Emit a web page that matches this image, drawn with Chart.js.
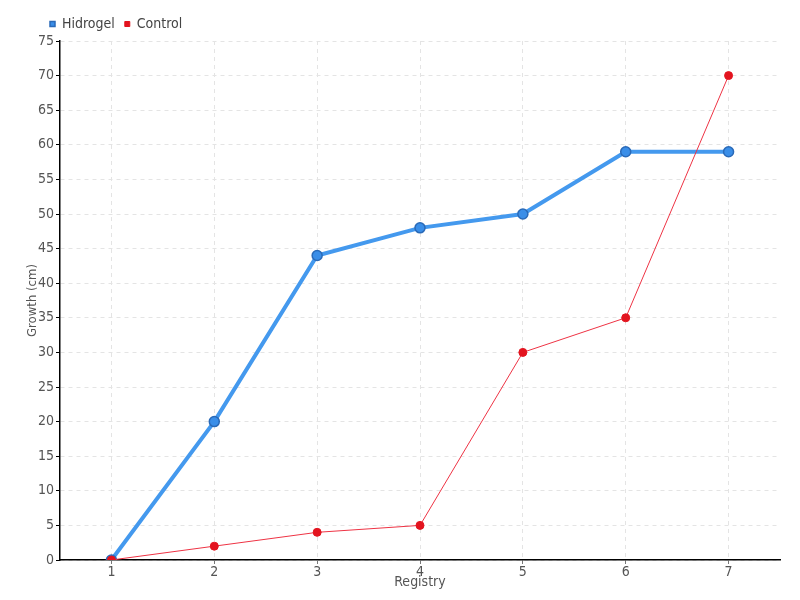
<!DOCTYPE html>
<html>
<head>
<meta charset="utf-8">
<script src="https://cdn.jsdelivr.net/npm/chart.js@4"></script>
<style>
  html, body { margin: 0; padding: 0; background: #fff; }
  #wrap { width: 800px; height: 600px; }
</style>
</head>
<body>
<div id="wrap"><canvas id="growthChart" width="800" height="600"></canvas></div>
<script>
const registry = ['1', '2', '3', '4', '5', '6', '7'];
const hidrogel = [0, 20, 44, 48, 50, 59, 59];
const control = [0, 2, 4, 5, 30, 35, 70];

Chart.defaults.font.family = '"DejaVu Sans Condensed", "DejaVu Sans", sans-serif';
Chart.defaults.color = '#555';

const ctx = document.getElementById('growthChart').getContext('2d');
const growthChart = new Chart(ctx, {
    type: 'line',
    data: {
        labels: registry,
        datasets: [{
            label: 'Hidrogel',
            data: hidrogel,
            order: 2,
            borderColor: '#4499ee',
            backgroundColor: '#3a8ee8',
            pointBorderColor: '#2a6ab8',
            borderWidth: 4,
            pointRadius: 5,
            pointBorderWidth: 1.5,
            tension: 0
        }, {
            label: 'Control',
            data: control,
            order: 1,
            borderColor: '#ee3344',
            backgroundColor: '#e3141f',
            pointBorderColor: '#e3141f',
            borderWidth: 1,
            pointRadius: 4,
            pointBorderWidth: 1,
            tension: 0
        }]
    },
    options: {
        responsive: false,
        animation: false,
        layout: { padding: { left: 25, right: 20, top: 7, bottom: 9 } },
        scales: {
            x: {
                offset: true,
                afterFit: function(scale) { scale.height = 31; },
                grid: {
                    color: '#e4e4e4',
                    tickColor: '#777',
                    tickLength: 4,
                    offset: false
                },
                border: { color: '#000', width: 1.5, dash: [4, 4] },
                ticks: { font: { size: 14 }, color: '#555', padding: 0 },
                title: { display: true, text: 'Registry', font: { size: 14 }, color: '#555', padding: 0 }
            },
            y: {
                min: 0,
                max: 75,
                afterFit: function(scale) { scale.width = 35; },
                grid: {
                    color: '#e4e4e4',
                    tickColor: '#000',
                    tickLength: 4
                },
                border: { color: '#000', width: 1.5, dash: [4, 4] },
                ticks: { stepSize: 5, font: { size: 14 }, color: '#555', padding: 2 },
                title: { display: true, text: 'Growth (cm)', font: { size: 13 }, color: '#555', padding: 0 }
            }
        },
        plugins: {
            legend: {
                position: 'top',
                align: 'start',
                labels: {
                    usePointStyle: true,
                    pointStyle: 'rect',
                    boxWidth: 5,
                    boxHeight: 5,
                    padding: 10,
                    font: { size: 14 },
                    color: '#444',
                    // keep Hidrogel first even though Control is drawn on top
                    sort: function(a, b) { return a.datasetIndex - b.datasetIndex; }
                }
            },
            tooltip: { enabled: false }
        }
    },
    plugins: [{
        id: 'legendShift',
        afterLayout: function(chart) {
            // push the legend in line with the reference
            chart.legend.left = 40;
        }
    }]
});
</script>
</body>
</html>
